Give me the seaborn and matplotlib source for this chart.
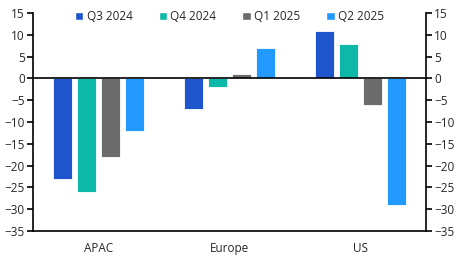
import pandas as pd
import seaborn as sns
import matplotlib.pyplot as plt
from matplotlib.patches import Patch

regions = ['APAC', 'Europe', 'US']
quarters = ['Q3 2024', 'Q4 2024', 'Q1 2025', 'Q2 2025']
q3_2024 = [-23, -7, 11]
q4_2024 = [-26, -2, 8]
q1_2025 = [-18, 1, -6]
q2_2025 = [-12, 7, -29]
colors = ['#1f55cc', '#0db8a8', '#6b6b6b', '#2299ff']

rows = []
for q, vals in zip(quarters, [q3_2024, q4_2024, q1_2025, q2_2025]):
    for r, v in zip(regions, vals):
        rows.append({'region': r, 'quarter': q, 'value': v})
df = pd.DataFrame(rows)

sns.set_style('white')
plt.rcParams['font.family'] = ['Open Sans', 'DejaVu Sans']

fig = plt.figure(figsize=(4.59, 2.57), dpi=100)
ax = fig.add_axes([0.072, 0.101, 0.856, 0.848])

sns.barplot(data=df, x='region', y='value', hue='quarter', order=regions,
            hue_order=quarters, palette=colors, saturation=1, width=0.73, gap=0.2,
            edgecolor='white', linewidth=0.6, ax=ax, legend=False)

ax.set_ylim(-35, 15)
ax.set_xlim(-0.5, 2.5)
ax.set_yticks(range(-35, 16, 5))
ax.axhline(0, color='black', lw=1.2, zorder=5)
ax.set_xlabel('')
ax.set_ylabel('')

for s in ['left', 'right', 'bottom']:
    ax.spines[s].set_visible(True)
    ax.spines[s].set_color('black')
    ax.spines[s].set_linewidth(1.2)
ax.spines['top'].set_visible(False)

ax.set_xticks([-0.5, 0.5, 1.5, 2.5], minor=True)
ax.tick_params(axis='x', which='major', length=0, labelsize=8.5, pad=8)
ax.tick_params(axis='x', which='minor', length=4, width=1.2, color='black', direction='out')
ax.tick_params(axis='y', length=4, width=1.2, color='black', direction='out',
               left=True, labelsize=8.5, pad=2)

ax2 = ax.twinx()
ax2.set_ylim(-35, 15)
ax2.set_yticks(range(-35, 16, 5))
ax2.tick_params(axis='y', length=4, width=1.2, color='black', direction='out',
                right=True, labelsize=8.5, pad=2)
for s in ax2.spines.values():
    s.set_visible(False)

handles = [Patch(facecolor=c, label=q) for c, q in zip(colors, quarters)]
ax.legend(handles=handles, loc='center', bbox_to_anchor=(0.5, 0.985), ncol=4,
          frameon=False, fontsize=8.5, handlelength=0.7, handleheight=0.7,
          handletextpad=0.3, columnspacing=2.2, borderaxespad=0)

fig.savefig('out.png', dpi=100)
